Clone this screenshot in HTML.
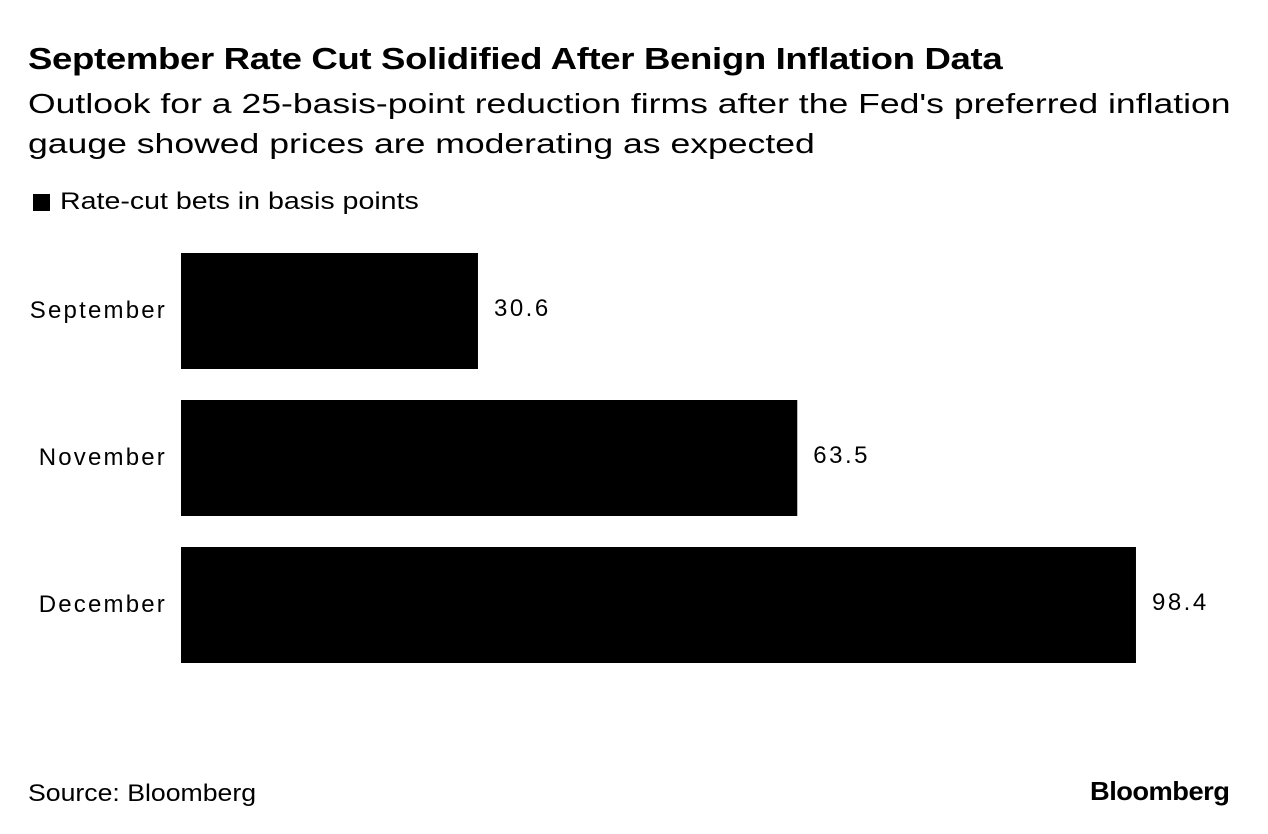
<!DOCTYPE html>
<html><head><meta charset="utf-8"><style>
body{margin:0;width:1268px;height:834px;background:#fff;font-family:"Liberation Sans",sans-serif;color:#000;position:relative;overflow:hidden}
.t{position:absolute;white-space:nowrap;transform-origin:0 0}
</style></head><body>
<div class="t" style="left:28px;top:41px;font-size:31px;font-weight:bold;letter-spacing:-0.3px;transform:scaleX(1.18)">September Rate Cut Solidified After Benign Inflation Data</div>
<div class="t" style="left:28px;top:84px;font-size:28px;line-height:40px;transform:scaleX(1.27)">Outlook for a 25-basis-point reduction firms after the Fed's preferred inflation<br>gauge showed prices are moderating as expected</div>
<div style="position:absolute;left:33px;top:194px;width:17px;height:17px;background:#000"></div>
<div class="t" style="left:60px;top:188px;font-size:24px;transform:scaleX(1.19)">Rate-cut bets in basis points</div>
<svg id="chart" width="1268" height="834" style="position:absolute;left:0;top:0"></svg>
<div class="t" style="left:28px;top:780px;font-size:24px;transform:scaleX(1.11)">Source: Bloomberg</div>
<div class="t" style="left:1090px;top:776px;font-size:26px;font-weight:bold;letter-spacing:-0.5px;transform:scaleX(1.05)">Bloomberg</div>
<script>
const categories=["September","November","December"];
const values=[30.6,63.5,98.4];
const labels=["30.6","63.5","98.4"];
const svg=document.getElementById('chart');
const NS='http://www.w3.org/2000/svg';
const x0=181,pxPer=9.705,y0=253,step=147,bh=116;
const xs=v=>x0+v*pxPer;
categories.forEach((c,i)=>{
  const y=y0+i*step;
  const r=document.createElementNS(NS,'rect');
  r.setAttribute('x',x0);r.setAttribute('y',y);
  r.setAttribute('width',xs(values[i])-x0);r.setAttribute('height',bh);r.setAttribute('fill','#000');
  
  
  svg.appendChild(r);
  const t=document.createElementNS(NS,'text');
  t.setAttribute('x',167);t.setAttribute('y',y+bh/2+7);t.setAttribute('text-anchor','end');
  t.setAttribute('font-size','24');t.setAttribute('font-family','Liberation Sans, sans-serif');
  t.setAttribute('letter-spacing','2.2');
  t.textContent=c;
  
  
  svg.appendChild(t);
  const v=document.createElementNS(NS,'text');
  v.setAttribute('x',xs(values[i])+16);v.setAttribute('y',y+bh/2+5);
  v.setAttribute('font-size','24');v.setAttribute('font-family','Liberation Sans, sans-serif');
  v.setAttribute('letter-spacing','2.5');
  v.textContent=labels[i];
  
  
  svg.appendChild(v);
});
</script>
</body></html>
